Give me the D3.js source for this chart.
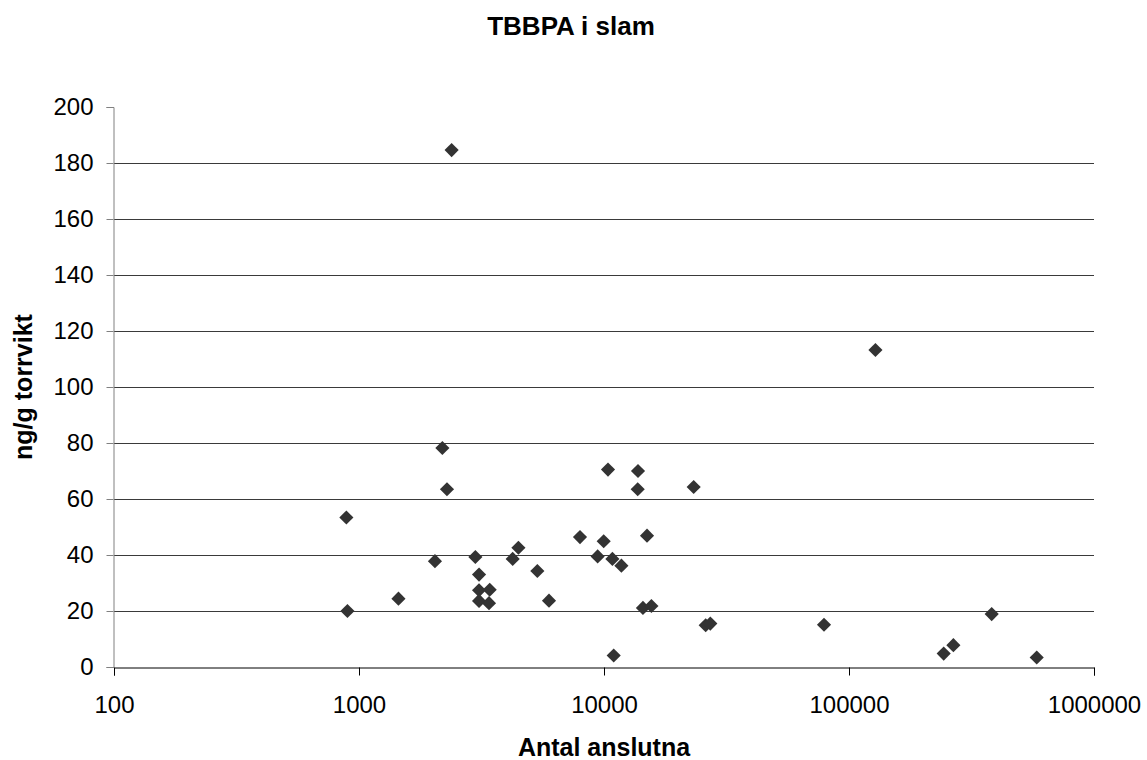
<!DOCTYPE html>
<html>
<head>
<meta charset="utf-8">
<script src="https://cdn.jsdelivr.net/npm/d3@7"></script>
<style>
  html, body { margin: 0; padding: 0; background: #fff; }
  svg { display: block; font-family: "Liberation Sans", Arial, sans-serif; }
</style>
</head>
<body>
<svg id="chart" width="1147" height="760"></svg>
<script>
// Connected population (Antal anslutna) per treatment plant
const anslutna = [
  2189, 10383, 2286, 888, 7980, 9972, 4474, 4239, 2985, 2042,
  9420, 10822, 11777, 3090, 5345, 3090, 3416, 3090, 3393, 1449,
  5963, 897, 10955, 13765, 13728, 23228, 14983, 14420, 15614, 26004,
  27164, 79070, 128200, 382300, 243500, 266700, 583700, 2388
];
// TBBPA in sludge, ng/g dry weight
const tbbpa = [
  78.2, 70.5, 63.5, 53.4, 46.4, 44.9, 42.6, 38.6, 39.3, 37.8,
  39.5, 38.6, 36.2, 33.0, 34.3, 27.4, 27.6, 23.6, 22.8, 24.4,
  23.7, 20.0, 4.1, 70.0, 63.5, 64.3, 46.9, 21.1, 21.8, 14.9,
  15.5, 15.1, 113.2, 18.9, 4.8, 7.8, 3.4, 184.6
];
const xTicks = [100, 1000, 10000, 100000, 1000000];
const yTicks = [0, 20, 40, 60, 80, 100, 120, 140, 160, 180, 200];

const svg = d3.select("#chart");
const plotLeft = 114, plotRight = 1094, plotTop = 107, plotBottom = 667;
const tickFont = 24, titleFont = 26, axisTitleFont = 25;

const x = d3.scaleLog().domain([100, 1000000]).range([plotLeft, plotRight]);
const y = d3.scaleLinear().domain([0, 200]).range([plotBottom, plotTop]);

// horizontal gridlines
svg.append("g")
  .selectAll("line")
  .data(yTicks.filter(v => v > 0 && v < 200))
  .join("line")
  .attr("x1", plotLeft).attr("x2", plotRight)
  .attr("y1", d => Math.round(y(d)) + 0.5)
  .attr("y2", d => Math.round(y(d)) + 0.5)
  .attr("stroke", "#3a3a3a")
  .attr("stroke-width", 1);

// y axis
const yAxis = svg.append("g")
  .attr("transform", `translate(${plotLeft - 0.5},0)`)
  .call(d3.axisLeft(y).tickValues(yTicks).tickSize(7).tickPadding(13).tickFormat(d3.format("d")));
yAxis.select(".domain").attr("stroke", "#808080");
yAxis.selectAll(".tick line").attr("stroke", "#808080");
yAxis.selectAll("text").attr("font-size", tickFont).attr("fill", "#000")
  .attr("font-family", "'Liberation Sans', Arial, sans-serif");

// x axis
const xAxis = svg.append("g")
  .attr("transform", `translate(0,${plotBottom + 0.5})`)
  .call(d3.axisBottom(x).tickValues(xTicks).tickSize(8).tickPadding(20).tickFormat(d3.format("d")));
xAxis.select(".domain").attr("stroke", "#000");
xAxis.selectAll(".tick line").attr("stroke", "#000");
xAxis.selectAll("text").attr("font-size", tickFont).attr("fill", "#000")
  .attr("font-family", "'Liberation Sans', Arial, sans-serif");

// data points as diamonds
const diamond = d3.symbol().type(d3.symbolSquare).size(100);
svg.append("g")
  .selectAll("path")
  .data(anslutna.map((v, i) => [v, tbbpa[i]]))
  .join("path")
  .attr("d", diamond)
  .attr("transform", d => `translate(${x(d[0])},${y(d[1])}) rotate(45)`)
  .attr("fill", "#333333");

// titles
svg.append("text")
  .attr("x", 571).attr("y", 35)
  .attr("text-anchor", "middle")
  .attr("font-size", titleFont).attr("font-weight", "bold")
  .text("TBBPA i slam");

svg.append("text")
  .attr("x", (plotLeft + plotRight) / 2).attr("y", 756)
  .attr("text-anchor", "middle")
  .attr("font-size", axisTitleFont).attr("font-weight", "bold")
  .text("Antal anslutna");

svg.append("text")
  .attr("transform", `translate(32,${(plotTop + plotBottom) / 2}) rotate(-90)`)
  .attr("text-anchor", "middle")
  .attr("font-size", axisTitleFont).attr("font-weight", "bold")
  .text("ng/g torrvikt");
</script>
</body>
</html>
